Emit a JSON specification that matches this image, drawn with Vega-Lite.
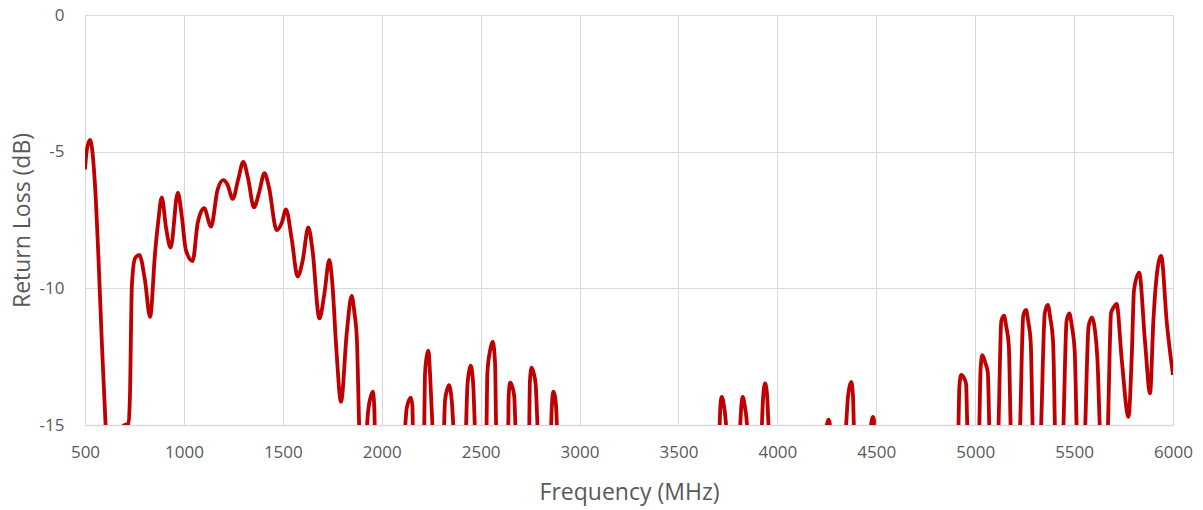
{
  "$schema": "https://vega.github.io/schema/vega-lite/v6.json",
  "width": 1088,
  "height": 410,
  "autosize": {"type": "none"},
  "padding": {"left": 85, "top": 15, "right": 30, "bottom": 85},
  "config": {
    "view": {"stroke": null},
    "axis": {
      "labelFont": "Open Sans",
      "titleFont": "Open Sans",
      "labelColor": "#595959",
      "titleColor": "#595959",
      "labelFontSize": 17,
      "titleFontSize": 23,
      "titleFontWeight": "normal",
      "gridColor": "#d9d9d9",
      "gridWidth": 1,
      "ticks": false,
      "labelFlush": false,
      "labelOverlap": false
    }
  },
  "data": {
    "values": [
      {"f": 500, "r": -5.65}, {"f": 508, "r": -5.0}, {"f": 525, "r": -4.57}, {"f": 551, "r": -6.28},
      {"f": 567, "r": -8.71}, {"f": 584, "r": -11.77}, {"f": 606, "r": -15.3}, {"f": 640, "r": -18},
      {"f": 668, "r": -18}, {"f": 688, "r": -15.1}, {"f": 700, "r": -15.0}, {"f": 720, "r": -14.95},
      {"f": 727, "r": -14.0}, {"f": 737, "r": -9.9}, {"f": 753, "r": -8.9}, {"f": 775, "r": -8.78},
      {"f": 803, "r": -9.7}, {"f": 829, "r": -11.04}, {"f": 854, "r": -8.72}, {"f": 871, "r": -7.5},
      {"f": 888, "r": -6.67}, {"f": 910, "r": -7.8}, {"f": 933, "r": -8.51}, {"f": 969, "r": -6.5},
      {"f": 990, "r": -7.4}, {"f": 1010, "r": -8.6}, {"f": 1044, "r": -9.0}, {"f": 1070, "r": -7.6},
      {"f": 1102, "r": -7.07}, {"f": 1137, "r": -7.74}, {"f": 1170, "r": -6.4}, {"f": 1199, "r": -6.04},
      {"f": 1220, "r": -6.2}, {"f": 1247, "r": -6.73}, {"f": 1275, "r": -6.0}, {"f": 1300, "r": -5.37},
      {"f": 1325, "r": -6.0}, {"f": 1354, "r": -7.04}, {"f": 1380, "r": -6.5}, {"f": 1407, "r": -5.79},
      {"f": 1430, "r": -6.3}, {"f": 1469, "r": -7.87}, {"f": 1495, "r": -7.6}, {"f": 1516, "r": -7.11},
      {"f": 1545, "r": -8.2}, {"f": 1575, "r": -9.57}, {"f": 1600, "r": -9.0}, {"f": 1629, "r": -7.77},
      {"f": 1650, "r": -8.6}, {"f": 1685, "r": -11.1}, {"f": 1710, "r": -10.2}, {"f": 1735, "r": -8.96},
      {"f": 1750, "r": -9.8}, {"f": 1772, "r": -12.38}, {"f": 1794, "r": -14.15}, {"f": 1823, "r": -11.65},
      {"f": 1848, "r": -10.28}, {"f": 1862, "r": -10.9}, {"f": 1874, "r": -11.8}, {"f": 1887, "r": -15.3},
      {"f": 1905, "r": -18}, {"f": 1923, "r": -15.3}, {"f": 1932, "r": -14.45}, {"f": 1945, "r": -13.95},
      {"f": 1955, "r": -13.78}, {"f": 1962, "r": -14.3}, {"f": 1966, "r": -15.3}, {"f": 2040, "r": -18},
      {"f": 2116, "r": -15.3}, {"f": 2126, "r": -14.4}, {"f": 2147, "r": -14.0}, {"f": 2155, "r": -14.3},
      {"f": 2158, "r": -15.3}, {"f": 2186, "r": -18}, {"f": 2214, "r": -15.3}, {"f": 2219, "r": -13.1},
      {"f": 2230, "r": -12.4}, {"f": 2236, "r": -12.28}, {"f": 2244, "r": -13.1}, {"f": 2253, "r": -14.5},
      {"f": 2258, "r": -15.3}, {"f": 2286, "r": -18}, {"f": 2314, "r": -15.3}, {"f": 2320, "r": -14.1},
      {"f": 2333, "r": -13.65}, {"f": 2340, "r": -13.54}, {"f": 2347, "r": -13.7}, {"f": 2354, "r": -14.1},
      {"f": 2364, "r": -15.3}, {"f": 2395, "r": -18}, {"f": 2425, "r": -15.3}, {"f": 2433, "r": -13.6},
      {"f": 2444, "r": -12.95}, {"f": 2450, "r": -12.83}, {"f": 2456, "r": -13.0}, {"f": 2463, "r": -13.6},
      {"f": 2472, "r": -15.3}, {"f": 2500, "r": -18}, {"f": 2529, "r": -15.3}, {"f": 2534, "r": -13.1},
      {"f": 2548, "r": -12.26}, {"f": 2561, "r": -11.95}, {"f": 2573, "r": -12.75}, {"f": 2579, "r": -15.3},
      {"f": 2610, "r": -18}, {"f": 2639, "r": -15.3}, {"f": 2642, "r": -13.9}, {"f": 2649, "r": -13.45},
      {"f": 2660, "r": -13.6}, {"f": 2670, "r": -13.96}, {"f": 2677, "r": -15.3}, {"f": 2710, "r": -18},
      {"f": 2745, "r": -15.3}, {"f": 2749, "r": -13.4}, {"f": 2758, "r": -12.9}, {"f": 2768, "r": -13.1},
      {"f": 2778, "r": -13.5}, {"f": 2789, "r": -15.3}, {"f": 2822, "r": -18}, {"f": 2855, "r": -15.3},
      {"f": 2860, "r": -14.3}, {"f": 2868, "r": -13.78}, {"f": 2877, "r": -14.0}, {"f": 2882, "r": -14.4},
      {"f": 2888, "r": -15.3}, {"f": 3300, "r": -18}, {"f": 3706, "r": -15.3}, {"f": 3712, "r": -14.3},
      {"f": 3719, "r": -13.97}, {"f": 3730, "r": -14.3}, {"f": 3737, "r": -14.7}, {"f": 3744, "r": -15.3},
      {"f": 3777, "r": -18}, {"f": 3810, "r": -15.3}, {"f": 3818, "r": -14.3}, {"f": 3825, "r": -13.97},
      {"f": 3835, "r": -14.3}, {"f": 3843, "r": -14.7}, {"f": 3850, "r": -15.3}, {"f": 3885, "r": -18},
      {"f": 3920, "r": -15.3}, {"f": 3928, "r": -14.0}, {"f": 3938, "r": -13.48}, {"f": 3948, "r": -13.9},
      {"f": 3958, "r": -15.3}, {"f": 4100, "r": -18}, {"f": 4240, "r": -15.3}, {"f": 4250, "r": -15.0},
      {"f": 4258, "r": -14.8}, {"f": 4264, "r": -14.9}, {"f": 4267, "r": -15.3}, {"f": 4305, "r": -18},
      {"f": 4345, "r": -15.3}, {"f": 4358, "r": -13.9}, {"f": 4373, "r": -13.42}, {"f": 4382, "r": -13.9},
      {"f": 4388, "r": -15.3}, {"f": 4428, "r": -18}, {"f": 4468, "r": -15.3}, {"f": 4478, "r": -14.8},
      {"f": 4483, "r": -14.7}, {"f": 4488, "r": -14.8}, {"f": 4490, "r": -15.3}, {"f": 4700, "r": -18},
      {"f": 4914, "r": -15.3}, {"f": 4920, "r": -13.6}, {"f": 4929, "r": -13.17}, {"f": 4945, "r": -13.3},
      {"f": 4954, "r": -13.5}, {"f": 4961, "r": -15.3}, {"f": 4990, "r": -18}, {"f": 5020, "r": -15.3},
      {"f": 5027, "r": -13.0}, {"f": 5036, "r": -12.44}, {"f": 5050, "r": -12.7}, {"f": 5064, "r": -13.1},
      {"f": 5072, "r": -15.3}, {"f": 5095, "r": -18}, {"f": 5117, "r": -15.3}, {"f": 5132, "r": -11.2},
      {"f": 5146, "r": -11.0}, {"f": 5157, "r": -11.4}, {"f": 5170, "r": -12.1}, {"f": 5180, "r": -15.3},
      {"f": 5203, "r": -18}, {"f": 5226, "r": -15.3}, {"f": 5243, "r": -11.0}, {"f": 5257, "r": -10.79},
      {"f": 5268, "r": -11.2}, {"f": 5281, "r": -12.0}, {"f": 5291, "r": -15.3}, {"f": 5312, "r": -18},
      {"f": 5332, "r": -15.3}, {"f": 5352, "r": -10.9}, {"f": 5367, "r": -10.61}, {"f": 5380, "r": -11.1},
      {"f": 5394, "r": -12.0}, {"f": 5404, "r": -15.3}, {"f": 5425, "r": -18}, {"f": 5445, "r": -15.3},
      {"f": 5462, "r": -11.2}, {"f": 5476, "r": -10.92}, {"f": 5489, "r": -11.4}, {"f": 5503, "r": -12.3},
      {"f": 5514, "r": -15.3}, {"f": 5535, "r": -18}, {"f": 5555, "r": -15.3}, {"f": 5573, "r": -11.4},
      {"f": 5590, "r": -11.06}, {"f": 5605, "r": -11.5}, {"f": 5618, "r": -12.6}, {"f": 5631, "r": -15.3},
      {"f": 5650, "r": -18}, {"f": 5670, "r": -15.3}, {"f": 5687, "r": -10.9}, {"f": 5700, "r": -10.7},
      {"f": 5715, "r": -10.57}, {"f": 5741, "r": -12.62}, {"f": 5775, "r": -14.7}, {"f": 5792, "r": -12.38},
      {"f": 5803, "r": -10.06}, {"f": 5829, "r": -9.43}, {"f": 5859, "r": -12.0}, {"f": 5884, "r": -13.84},
      {"f": 5901, "r": -11.16}, {"f": 5913, "r": -9.88}, {"f": 5940, "r": -8.81}, {"f": 5969, "r": -11.28},
      {"f": 6000, "r": -13.17}
    ]
  },
  "mark": {"type": "line", "color": "#C00000", "strokeWidth": 3.8, "interpolate": "monotone", "clip": true},
  "encoding": {
    "x": {
      "field": "f",
      "type": "quantitative",
      "scale": {"domain": [500, 6000], "nice": false, "zero": false},
      "axis": {
        "title": "Frequency (MHz)",
        "values": [500, 1000, 1500, 2000, 2500, 3000, 3500, 4000, 4500, 5000, 5500, 6000],
        "labelExpr": "toString(datum.value)",
        "grid": true,
        "domain": true,
        "domainColor": "#d9d9d9",
        "domainWidth": 1.5,
        "labelPadding": 19,
        "titlePadding": 21
      }
    },
    "y": {
      "field": "r",
      "type": "quantitative",
      "scale": {"domain": [-15, 0], "nice": false, "zero": false},
      "axis": {
        "title": "Return Loss (dB)",
        "values": [-15, -10, -5, 0],
        "labelExpr": "toString(datum.value)",
        "grid": true,
        "domain": false,
        "labelPadding": 21,
        "titlePadding": 5
      }
    }
  }
}
